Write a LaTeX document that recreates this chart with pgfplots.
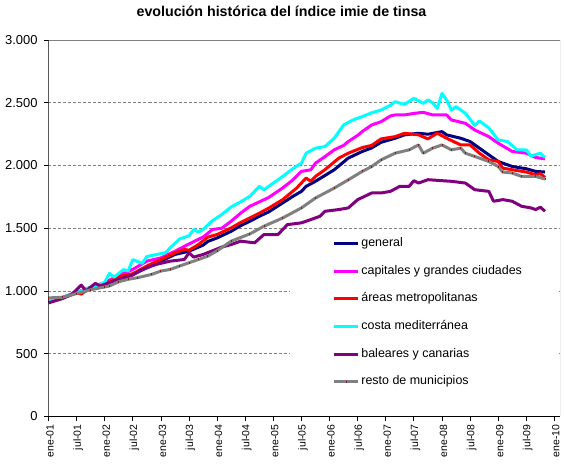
\documentclass[border=0pt]{standalone}
\usepackage{pgfplots}
\pgfplotsset{compat=1.18}
\usepackage{fontspec}
\setmainfont{Liberation Sans}
\definecolor{cnavy}{HTML}{000080}
\definecolor{cmag}{HTML}{FF00FF}
\definecolor{cred}{HTML}{FF0000}
\definecolor{ccyan}{HTML}{00FFFF}
\definecolor{cpurp}{HTML}{800080}
\definecolor{cgray}{HTML}{808080}
\definecolor{cdred}{HTML}{8B1A1A}
\begin{document}
\begin{tikzpicture}
\useasboundingbox (-48.5bp,-48.5bp) rectangle (516.5bp,416.5bp);
\begin{axis}[
  at={(0,0)}, anchor=south west,
  scale only axis, width=511.5bp, height=376.5bp,
  xmin=0, xmax=109.2, ymin=0, ymax=3000,
  axis line style={draw=none},
  xtick pos=bottom, ytick pos=left,
  tick align=outside,
  major tick length=4.5bp,
  tick style={draw=black, line width=0.8bp},
  xtick={0,6,...,108},
  xticklabels={ene-01,jul-01,ene-02,jul-02,ene-03,jul-03,ene-04,jul-04,ene-05,jul-05,ene-06,jul-06,ene-07,jul-07,ene-08,jul-08,ene-09,jul-09,ene-10},
  xticklabel style={rotate=90, anchor=east, font=\fontsize{10.5}{12}\selectfont, yshift=-1.5bp},
  ytick={0,500,1000,1500,2000,2500,3000},
  yticklabels={0,500,{1.000},{1.500},{2.000},{2.500},{3.000}},
  yticklabel style={font=\fontsize{13}{15}\selectfont, xshift=-3bp},
  ymajorgrids,
  major grid style={draw=cgray, line width=0.8bp, dash pattern=on 3bp off 2bp},
  title={evolución histórica del índice imie de tinsa},
  title style={at={(axis description cs:0.4555,1.0611)}, anchor=center, font=\bfseries\fontsize{14.3}{17}\selectfont},
  every axis plot/.append style={line width=3bp, line join=round},
  legend image code/.code={\draw[mark repeat=2,mark phase=2,#1] plot coordinates {(0bp,0bp) (12bp,0bp) (24bp,0bp)};},
  legend cell align=left,
  legend style={at={(axis description cs:0.5556,0.4760)}, anchor=north west, draw=none, fill=none, inner sep=0pt,
    row sep=15.7bp, font=\fontsize{12.5}{15}\selectfont,
    nodes={inner xsep=1.5bp, inner ysep=0pt, text height=9bp, text depth=3bp}},
]
\fill[white] (axis cs:51.5,131) rectangle (axis cs:108.5,1470);

\addplot[color=cnavy] coordinates {
(0,920) (3,945) (6,985) (9,1025) (12,1050) (15,1111) (18,1132) (21,1185) (24,1238) (27,1291) (30,1317) (33,1365) (34,1395) (36,1423) (39,1476) (41,1520) (43,1556) (45,1595) (47,1630) (50,1702) (52,1750) (54,1794) (55,1834) (57,1874) (59,1920) (61,1966) (64,2059) (67,2112) (69,2140) (71,2185) (74,2217) (76,2244) (79,2257) (81,2249) (84,2270) (85,2244) (88,2217) (90,2191) (92,2138) (94,2085) (96,2032) (99,1992) (102,1974) (104,1953) (106,1948)
};
\addlegendentry{general}

\addplot[color=cmag] coordinates {
(0,925) (3,950) (6,990) (9,1030) (12,1066) (15,1125) (18,1172) (21,1238) (24,1264) (27,1317) (30,1375) (33,1430) (35,1490) (37,1500) (39,1556) (41,1620) (43,1675) (45,1710) (47,1745) (50,1821) (52,1880) (54,1953) (56,1966) (57,2019) (59,2070) (61,2125) (63,2160) (64,2191) (66,2240) (67,2271) (69,2323) (71,2349) (73,2395) (74,2403) (76,2403) (78,2415) (80,2424) (82,2403) (85,2403) (86,2363) (89,2336) (91,2283) (94,2230) (96,2178) (99,2112) (102,2098) (104,2064) (106,2053)
};
\addlegendentry{capitales y grandes ciudades}

\addplot[color=cred] coordinates {
(0,920) (3,945) (6,985) (7,975) (9,1030) (12,1053) (15,1115) (18,1138) (21,1199) (24,1251) (27,1304) (29,1331) (30,1325) (32,1370) (34,1429) (36,1450) (39,1503) (41,1545) (43,1582) (45,1620) (47,1660) (50,1728) (52,1790) (53,1821) (55,1900) (56,1874) (57,1913) (59,1966) (62,2059) (64,2098) (67,2143) (69,2160) (71,2212) (74,2230) (76,2257) (79,2244) (81,2212) (83,2257) (85,2217) (88,2164) (90,2164) (92,2098) (94,2045) (96,2032) (97,1979) (99,1966) (102,1948) (104,1926) (105,1935) (106,1905)
};
\addlegendentry{áreas metropolitanas}

\addplot[color=ccyan] coordinates {
(0,930) (3,950) (5,975) (7,1000) (9,1030) (11,1050) (12,1070) (13,1140) (14,1110) (16,1170) (17,1160) (18,1250) (20,1220) (21,1275) (23,1290) (25,1305) (26,1345) (28,1415) (30,1440) (31,1490) (32,1470) (33,1490) (34,1525) (35,1560) (37,1610) (39,1670) (41,1710) (43,1755) (45,1834) (46,1807) (48,1860) (50,1913) (52,1970) (54,2019) (55,2098) (57,2138) (59,2151) (61,2217) (63,2323) (65,2363) (67,2390) (69,2420) (71,2442) (73,2480) (74,2508) (76,2487) (78,2535) (80,2495) (81,2522) (82,2500) (83,2455) (84,2574) (85,2522) (86,2442) (87,2469) (89,2416) (91,2320) (92,2355) (94,2300) (96,2204) (98,2191) (100,2125) (102,2125) (103,2075) (105,2098) (106,2064)
};
\addlegendentry{costa mediterránea}

\addplot[color=cpurp] coordinates {
(0,905) (3,940) (5,975) (7,1047) (8,1000) (10,1061) (11,1040) (12,1053) (15,1093) (18,1127) (20,1172) (23,1212) (26,1238) (29,1251) (30,1304) (31,1270) (33,1291) (35,1320) (37,1350) (39,1370) (41,1397) (44,1384) (46,1450) (49,1450) (51,1529) (54,1543) (56,1569) (58,1596) (59,1635) (62,1649) (64,1662) (66,1728) (69,1781) (71,1781) (73,1794) (75,1834) (77,1834) (78,1879) (79,1860) (81,1887) (84,1879) (86,1874) (89,1860) (91,1807) (94,1794) (95,1715) (97,1728) (99,1715) (101,1675) (103,1662) (104,1649) (105,1668) (106,1635)
};
\addlegendentry{baleares y canarias}

\addplot[color=cgray, mark=|, mark size=1bp, mark options={draw=cdred, line width=0.9bp, solid}] coordinates {
(0,945) (3,950) (6,980) (9,1010) (12,1032) (13,1040) (15,1074) (17,1093) (19,1106) (22,1132) (24,1159) (26,1172) (28,1199) (30,1225) (32,1251) (34,1278) (36,1320) (39,1397) (43,1455) (46,1516) (50,1582) (54,1662) (57,1741) (61,1820) (64,1886) (67,1953) (69,1992) (71,2045) (74,2098) (77,2125) (79,2164) (80,2098) (82,2138) (84,2164) (86,2125) (88,2138) (89,2098) (91,2072) (94,2032) (96,1992) (97,1948) (99,1940) (101,1913) (104,1913) (106,1892)
};
\addlegendentry{resto de municipios}

\draw[cgray, line width=0.8bp] (rel axis cs:0,1) -- (rel axis cs:1,1) -- (rel axis cs:1,0);
\draw[black, line width=1bp] (rel axis cs:0,1) -- (rel axis cs:0,0) -- (rel axis cs:1,0);
\end{axis}
\end{tikzpicture}
\end{document}
